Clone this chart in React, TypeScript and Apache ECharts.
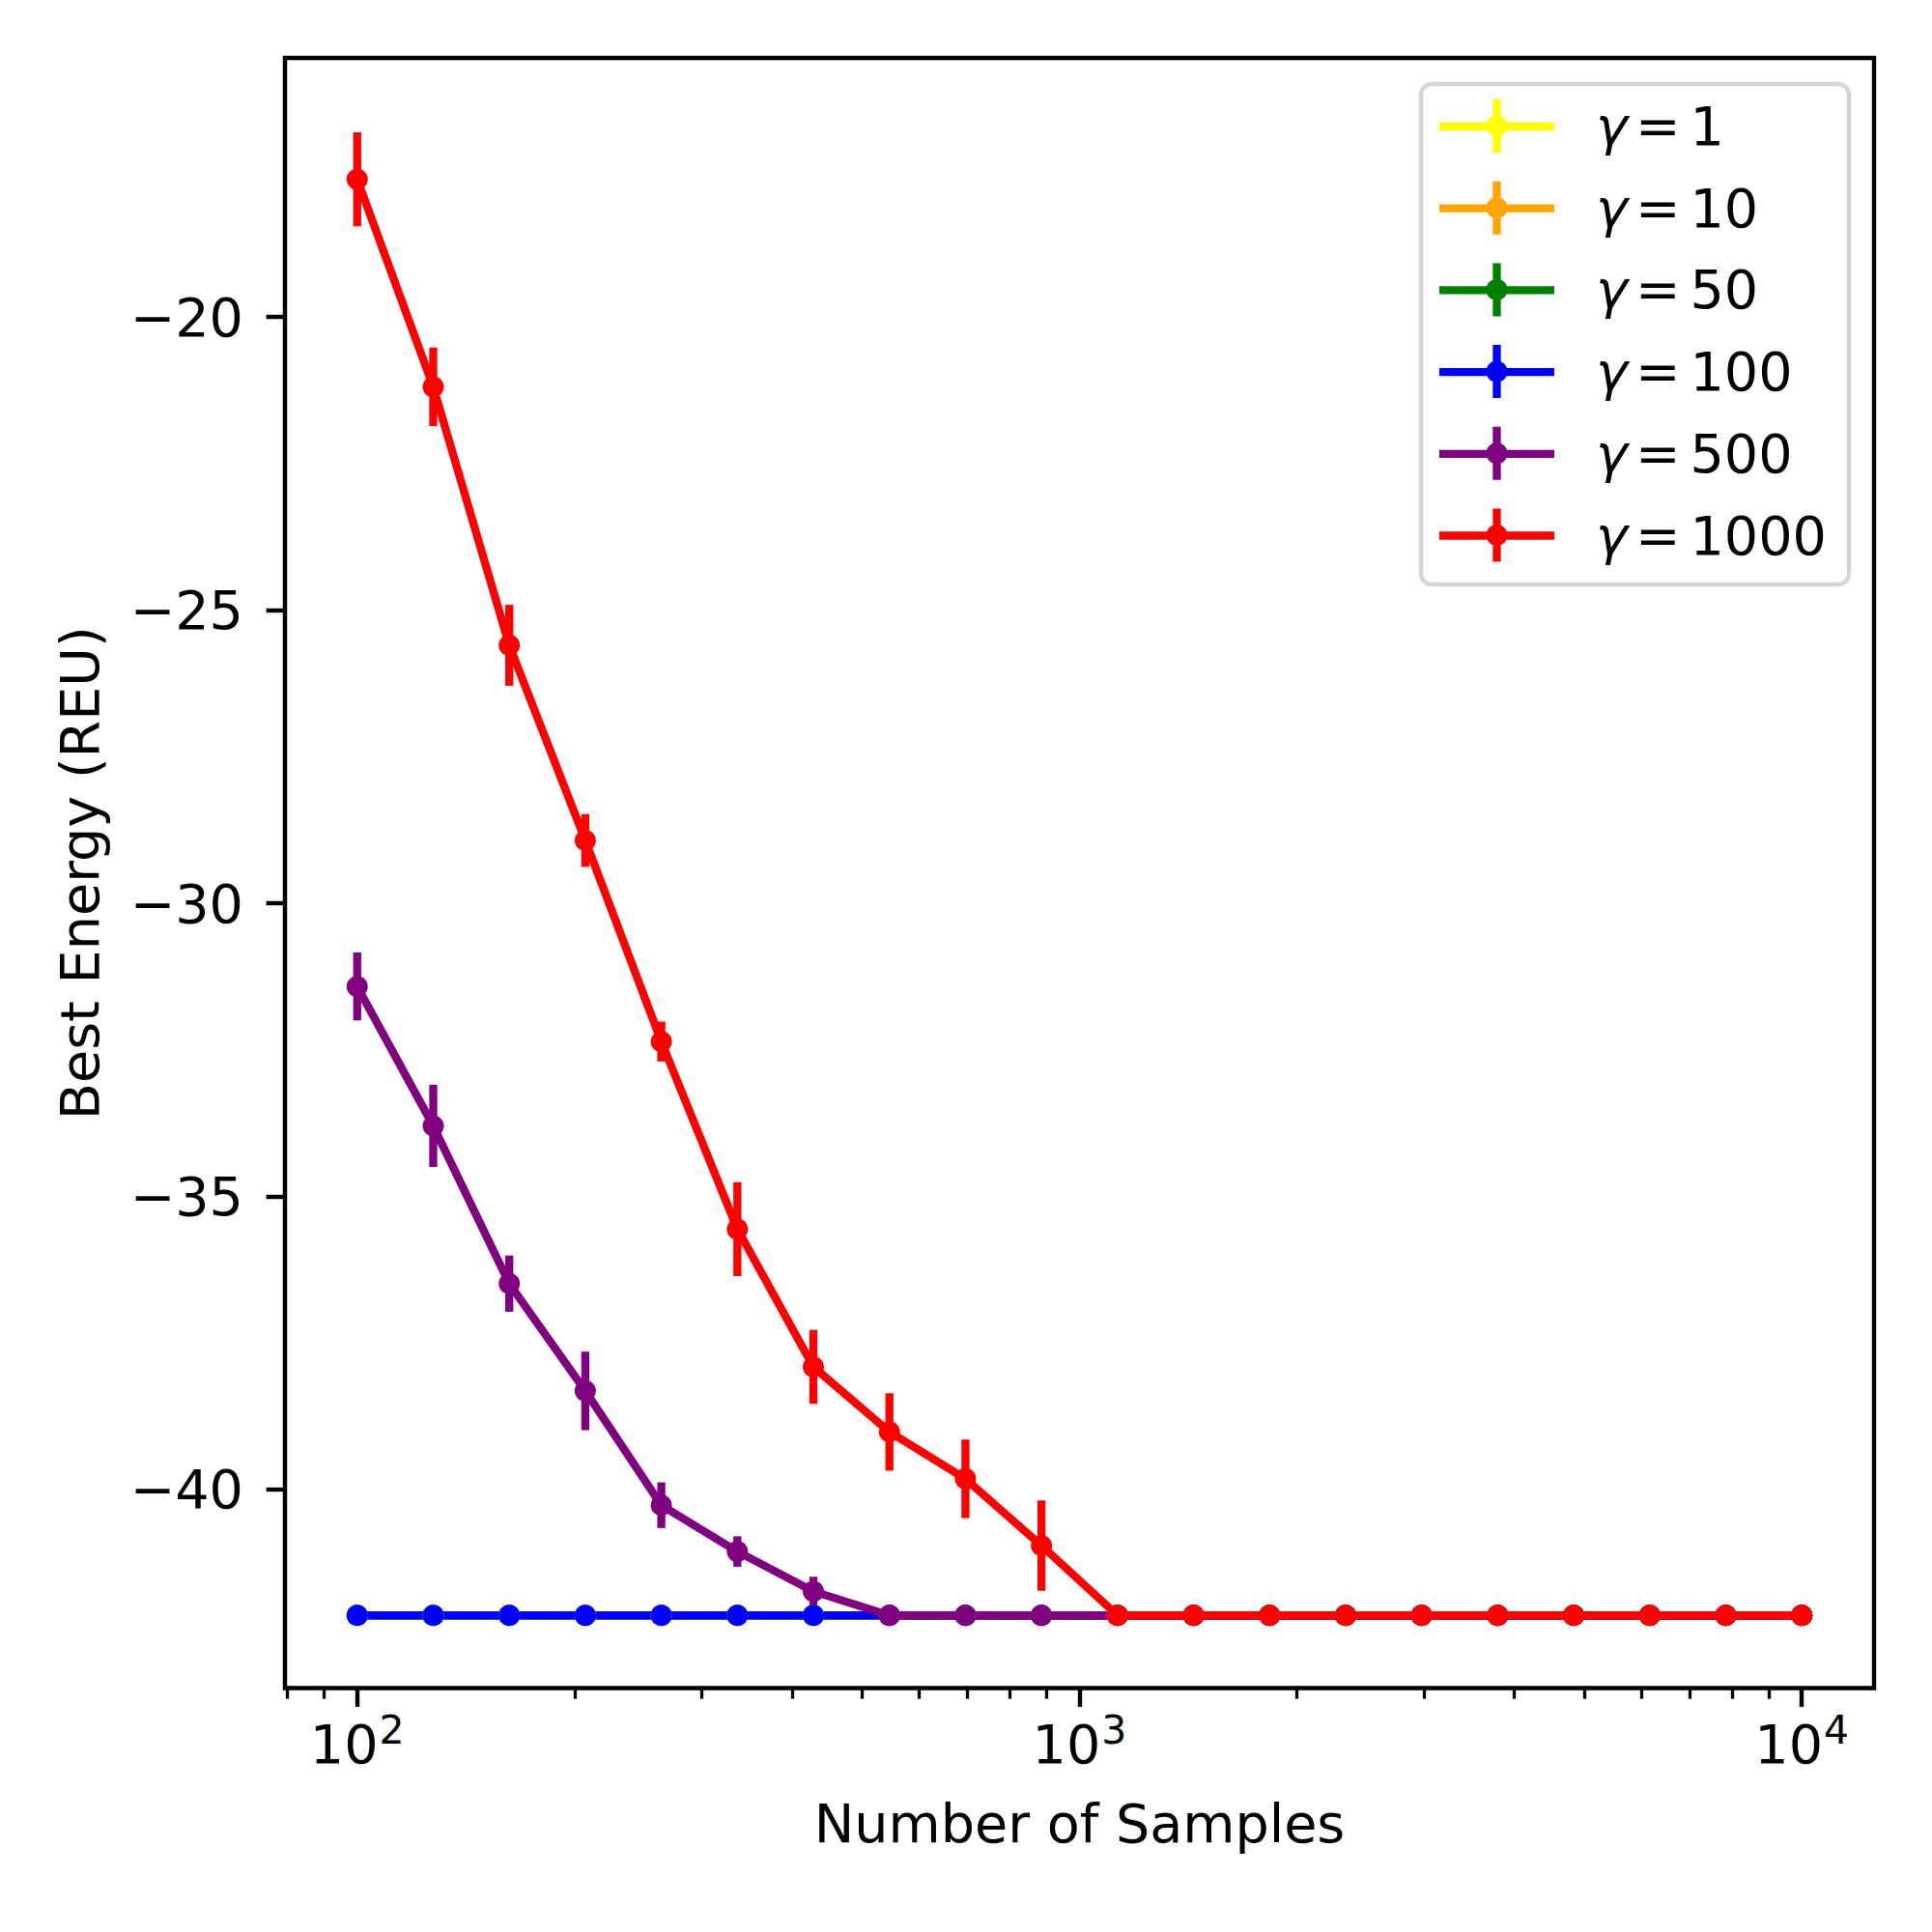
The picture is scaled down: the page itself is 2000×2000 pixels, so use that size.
import React, { useEffect, useRef } from "react";
import * as echarts from "echarts";

// Number of samples (log-spaced from 1e2 to 1e4, 20 points)
const SAMPLES = [
  100, 127.43, 162.38, 206.91, 263.67, 335.98, 428.13, 545.56, 695.19, 885.87,
  1128.84, 1438.45, 1832.98, 2335.72, 2976.35, 3792.69, 4832.93, 6158.48, 7847.6, 10000,
];

const SERIES_NAMES = ["γ = 1", "γ = 10", "γ = 50", "γ = 100", "γ = 500", "γ = 1000"];
const SERIES_COLORS = ["#ffff00", "#ffa500", "#008000", "#0000ff", "#800080", "#ff0000"];

const ENERGY_G1 = [
  -42.15, -42.15, -42.15, -42.15, -42.15, -42.15, -42.15, -42.15, -42.15, -42.15,
  -42.15, -42.15, -42.15, -42.15, -42.15, -42.15, -42.15, -42.15, -42.15, -42.15,
];
const ENERGY_G10 = [
  -42.15, -42.15, -42.15, -42.15, -42.15, -42.15, -42.15, -42.15, -42.15, -42.15,
  -42.15, -42.15, -42.15, -42.15, -42.15, -42.15, -42.15, -42.15, -42.15, -42.15,
];
const ENERGY_G50 = [
  -42.15, -42.15, -42.15, -42.15, -42.15, -42.15, -42.15, -42.15, -42.15, -42.15,
  -42.15, -42.15, -42.15, -42.15, -42.15, -42.15, -42.15, -42.15, -42.15, -42.15,
];
const ENERGY_G100 = [
  -42.15, -42.15, -42.15, -42.15, -42.15, -42.15, -42.15, -42.15, -42.15, -42.15,
  -42.15, -42.15, -42.15, -42.15, -42.15, -42.15, -42.15, -42.15, -42.15, -42.15,
];
const ENERGY_G500 = [
  -31.42, -33.8, -36.49, -38.32, -40.27, -41.06, -41.74, -42.15, -42.15, -42.15,
  -42.15, -42.15, -42.15, -42.15, -42.15, -42.15, -42.15, -42.15, -42.15, -42.15,
];
const ENERGY_G1000 = [
  -17.65, -21.19, -25.6, -28.93, -32.36, -35.56, -37.91, -39.02, -39.82, -40.96,
  -42.15, -42.15, -42.15, -42.15, -42.15, -42.15, -42.15, -42.15, -42.15, -42.15,
];

const ERR_G1 = [0, 0, 0, 0, 0, 0, 0, 0, 0, 0, 0, 0, 0, 0, 0, 0, 0, 0, 0, 0];
const ERR_G10 = [0, 0, 0, 0, 0, 0, 0, 0, 0, 0, 0, 0, 0, 0, 0, 0, 0, 0, 0, 0];
const ERR_G50 = [0, 0, 0, 0, 0, 0, 0, 0, 0, 0, 0, 0, 0, 0, 0, 0, 0, 0, 0, 0];
const ERR_G100 = [0, 0, 0, 0, 0, 0, 0, 0, 0, 0, 0, 0, 0, 0, 0, 0, 0, 0, 0, 0];
const ERR_G500 = [0.58, 0.7, 0.48, 0.67, 0.39, 0.26, 0.25, 0, 0, 0, 0, 0, 0, 0, 0, 0, 0, 0, 0, 0];
const ERR_G1000 = [0.8, 0.67, 0.69, 0.45, 0.34, 0.8, 0.63, 0.66, 0.67, 0.77, 0, 0, 0, 0, 0, 0, 0, 0, 0, 0];

const ENERGIES = [ENERGY_G1, ENERGY_G10, ENERGY_G50, ENERGY_G100, ENERGY_G500, ENERGY_G1000];
const ERRORS = [ERR_G1, ERR_G10, ERR_G50, ERR_G100, ERR_G500, ERR_G1000];

const X_MIN = 79.4328;
const X_MAX = 12589.25;
const Y_MIN = -43.39;
const Y_MAX = -15.58;
const X_MAJOR_TICKS = [100, 1000, 10000];
const X_MINOR_TICKS = [
  80, 90, 200, 300, 400, 500, 600, 700, 800, 900,
  2000, 3000, 4000, 5000, 6000, 7000, 8000, 9000,
];
const Y_TICKS = [-40, -35, -30, -25, -20];

const FONT = "DejaVu Sans";
const FS = 55.6;
const LW = 8.3;

const LEGEND_ICON =
  "path://M0,23.85H119V32.15H0Z M55.35,0H63.65V55H55.35Z M59.5,16.4A11.1,11.1 0 1,1 59.49,16.4Z";

export default function App() {
  const ref = useRef<HTMLDivElement>(null);

  useEffect(() => {
    document.body.style.margin = "0";
    if (!ref.current) return;
    const chart = echarts.init(ref.current, undefined, { renderer: "svg" });

    const series: any[] = [];
    SERIES_NAMES.forEach((name, si) => {
      const color = SERIES_COLORS[si];
      series.push({
        name,
        type: "line",
        xAxisIndex: 0,
        yAxisIndex: 0,
        data: SAMPLES.map((x, i) => [x, ENERGIES[si][i]]),
        symbol: "circle",
        symbolSize: 22,
        showSymbol: true,
        showAllSymbol: true,
        lineStyle: { color, width: LW },
        itemStyle: { color, borderWidth: 0 },
        emphasis: { disabled: true },
        z: 2,
      });
      series.push({
        name: name + " error",
        type: "custom",
        xAxisIndex: 0,
        yAxisIndex: 0,
        data: SAMPLES.map((x, i) => [x, ENERGIES[si][i], ERRORS[si][i]]),
        silent: true,
        z: 2,
        renderItem: (params: any, api: any) => {
          const x = api.value(0);
          const y = api.value(1);
          const e = api.value(2);
          if (!e) return null;
          const p1 = api.coord([x, y + e]);
          const p2 = api.coord([x, y - e]);
          return {
            type: "line",
            shape: { x1: p1[0], y1: p1[1], x2: p2[0], y2: p2[1] },
            style: { stroke: color, lineWidth: LW },
          };
        },
      });
    });

    const option: any = {
      animation: false,
      backgroundColor: "#ffffff",
      textStyle: { fontFamily: FONT },
      grid: {
        left: 295,
        right: 60,
        top: 60,
        bottom: 252.5,
        show: true,
        borderColor: "#000000",
        borderWidth: 4.4,
        backgroundColor: "transparent",
        containLabel: false,
        outerBoundsMode: "none",
      },
      legend: {
        show: true,
        orient: "vertical",
        left: 1471,
        top: 87,
        data: SERIES_NAMES,
        icon: LEGEND_ICON,
        itemWidth: 119,
        itemHeight: 55,
        itemGap: 28.7,
        padding: [15.5, 23, 23, 19],
        backgroundColor: "rgba(255,255,255,0.8)",
        borderColor: "#d5d5d5",
        borderWidth: 4.4,
        borderRadius: 11,
        selectedMode: false,
        itemStyle: { borderWidth: 0 },
        formatter: (name: string) => `{g|γ}{e|=}{t|${name.replace("γ = ", "")}}`,
        textStyle: {
          fontFamily: FONT,
          fontSize: FS,
          color: "#000000",
          lineHeight: 55,
          padding: [0, 0, 0, 38],
          rich: {
            g: {
              fontFamily: FONT,
              fontSize: FS,
              fontStyle: "italic",
              color: "#000000",
              lineHeight: 55,
              padding: [0, 8, 0, 0],
            },
            e: {
              fontFamily: FONT,
              fontSize: FS,
              color: "#000000",
              lineHeight: 55,
              padding: [0, 10, 0, 0],
            },
            t: { fontFamily: FONT, fontSize: FS, color: "#000000", lineHeight: 55 },
          },
        },
      },
      xAxis: [
        {
          type: "log",
          logBase: 10,
          min: X_MIN,
          max: X_MAX,
          position: "bottom",
          gridIndex: 0,
          name: "Number of Samples",
          nameLocation: "middle",
          nameGap: 112,
          nameTextStyle: { fontFamily: FONT, fontSize: FS, color: "#000000" },
          axisLine: { show: false },
          splitLine: { show: false },
          minorTick: { show: false },
          axisTick: {
            show: true,
            customValues: X_MAJOR_TICKS,
            length: 19.4,
            inside: false,
            lineStyle: { color: "#000000", width: 4.4 },
          },
          axisLabel: {
            show: true,
            customValues: X_MAJOR_TICKS,
            margin: 30,
            formatter: (v: number) => `{b|10}{s|${Math.round(Math.log10(v))}}`,
            rich: {
              b: { fontFamily: FONT, fontSize: FS, lineHeight: 56, color: "#000000", verticalAlign: "bottom" },
              s: {
                fontFamily: FONT,
                fontSize: 41,
                lineHeight: 41,
                color: "#000000",
                verticalAlign: "bottom",
                padding: [0, 0, 22, 1],
              },
            },
          },
        },
        {
          type: "log",
          logBase: 10,
          min: X_MIN,
          max: X_MAX,
          position: "bottom",
          gridIndex: 0,
          axisLine: { show: false },
          splitLine: { show: false },
          axisLabel: { show: false },
          axisTick: {
            show: true,
            customValues: X_MINOR_TICKS,
            length: 11.1,
            inside: false,
            lineStyle: { color: "#000000", width: 3.3 },
          },
        },
      ],
      yAxis: [
        {
          type: "value",
          min: Y_MIN,
          max: Y_MAX,
          gridIndex: 0,
          position: "left",
          name: "Best Energy (REU)",
          nameLocation: "middle",
          nameRotate: 90,
          nameGap: 185,
          nameTextStyle: { fontFamily: FONT, fontSize: FS, color: "#000000" },
          axisLine: { show: false },
          splitLine: { show: false },
          axisTick: {
            show: true,
            customValues: Y_TICKS,
            length: 19.4,
            inside: false,
            lineStyle: { color: "#000000", width: 4.4 },
          },
          axisLabel: {
            show: true,
            customValues: Y_TICKS,
            margin: 43,
            fontFamily: FONT,
            fontSize: FS,
            color: "#000000",
            formatter: (v: number) => String(v).replace("-", "\u2212"),
          },
        },
      ],
      series,
    };

    chart.setOption(option);
    return () => {
      chart.dispose();
    };
  }, []);

  return <div ref={ref} style={{ width: 2000, height: 2000 }} />;
}
